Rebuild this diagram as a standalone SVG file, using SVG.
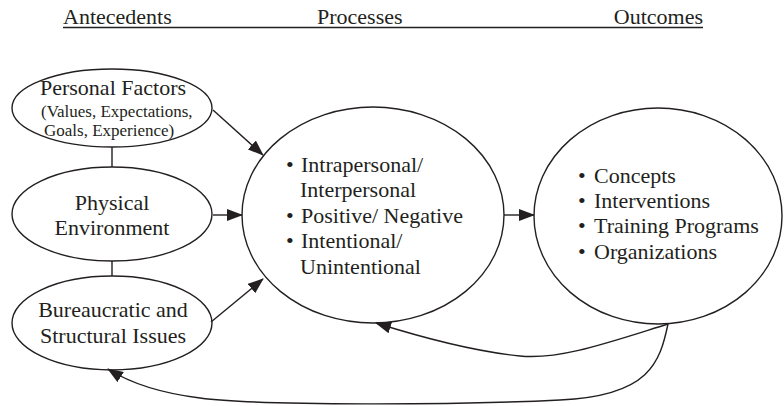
<svg xmlns="http://www.w3.org/2000/svg" width="784" height="406" viewBox="0 0 784 406" font-family="'Liberation Serif', 'Times New Roman', 'DejaVu Serif', serif">
<style>
text{font-family:'Liberation Serif','Times New Roman','DejaVu Serif',serif;fill:#231f20;font-size:22px}
.sm{font-size:17px}
.mid{text-anchor:middle}
ellipse{fill:none;stroke:#231f20;stroke-width:1.4}
.c{fill:none;stroke:#231f20;stroke-width:1.4}
.a{marker-end:url(#ah)}
</style>
<defs>
<marker id="ah" markerUnits="userSpaceOnUse" markerWidth="16" markerHeight="12" refX="15" refY="6" orient="auto">
<path d="M0,0 L16,6 L0,12 z" fill="#231f20"/>
</marker>
</defs>
<g id="header">
<text x="63" y="24">Antecedents</text>
<text x="317" y="24">Processes</text>
<text x="703" y="24" text-anchor="end">Outcomes</text>
<line x1="63" y1="27.5" x2="703" y2="27.5" stroke="#231f20" stroke-width="1.6"/>
</g>
<g id="connectors">
<line class="c" x1="112" y1="147" x2="112" y2="167"/>
<line class="c" x1="112" y1="261" x2="112" y2="276"/>
<line class="c a" x1="213" y1="110" x2="263" y2="155"/>
<line class="c a" x1="213" y1="215" x2="242" y2="215"/>
<line class="c a" x1="211" y1="322" x2="263" y2="279"/>
<line class="c a" x1="504" y1="215" x2="534" y2="215"/>
<path class="c a" d="M668,324 C610,342 560,360 520,356 C480,352 430,340 376,323"/>
<path class="c a" d="M668,324 C660,362 650,396 560,400 C460,405 260,406 200,398 C160,393 130,383 108,369"/>
</g>
<g id="personal">
<ellipse cx="112" cy="108" rx="100" ry="39"/>
<text x="113" y="95" class="mid">Personal Factors</text>
<text x="41" y="117" class="sm">(Values, Expectations,</text>
<text x="44" y="136" class="sm">Goals, Experience)</text>
</g>
<g id="physical">
<ellipse cx="112" cy="214" rx="100" ry="47"/>
<text x="112" y="210" class="mid">Physical</text>
<text x="112" y="235" class="mid">Environment</text>
</g>
<g id="bureaucratic">
<ellipse cx="112" cy="323" rx="100" ry="47"/>
<text x="113" y="317" class="mid">Bureaucratic and</text>
<text x="113" y="343" class="mid">Structural Issues</text>
</g>
<g id="processes">
<ellipse cx="373" cy="215" rx="131" ry="108"/>
<text x="286" y="172">•</text><text x="301" y="172">Intrapersonal/</text>
<text x="300" y="197">Interpersonal</text>
<text x="286" y="223">•</text><text x="301" y="223">Positive/ Negative</text>
<text x="286" y="248">•</text><text x="301" y="248">Intentional/</text>
<text x="300" y="274">Unintentional</text>
</g>
<g id="outcomes">
<ellipse cx="658" cy="216" rx="124" ry="108"/>
<text x="578" y="183">•</text><text x="594" y="183">Concepts</text>
<text x="578" y="208">•</text><text x="594" y="208">Interventions</text>
<text x="578" y="233">•</text><text x="594" y="233">Training Programs</text>
<text x="578" y="259">•</text><text x="594" y="259">Organizations</text>
</g>
</svg>
